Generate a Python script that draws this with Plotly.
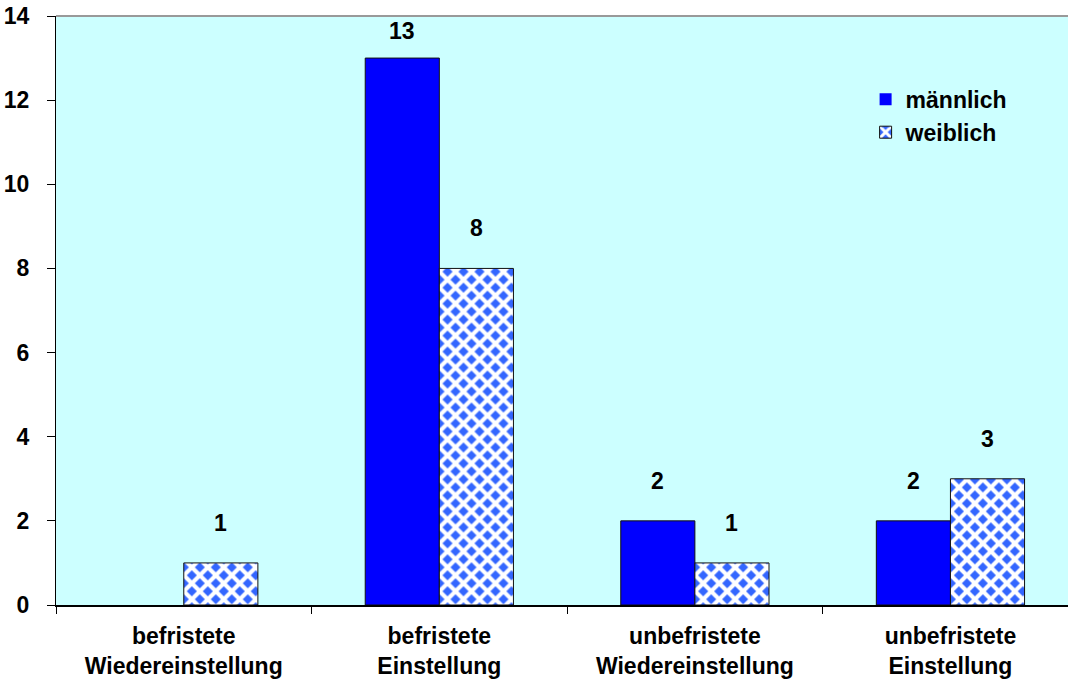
import plotly.graph_objects as go

categories = ["befristete<br>Wiedereinstellung", "befristete<br>Einstellung",
              "unbefristete<br>Wiedereinstellung", "unbefristete<br>Einstellung"]
maennlich = [0, 13, 2, 2]
weiblich = [1, 8, 1, 3]
male_labels = ["", "13", "2", "2"]
female_labels = ["1", "8", "1", "3"]
y_ticks = [0, 2, 4, 6, 8, 10, 12, 14]

FONT = "Liberation Sans, Arial, sans-serif"
FS = 23
H, T, B = 686, 16, 81
PX = (H - T - B) / 14.0

fig = go.Figure()
fig.add_trace(go.Bar(
    name="männlich", x=categories, y=maennlich,
    marker=dict(color="#0000FF",
                line=dict(color="#111111", width=[1 if v > 0 else 0 for v in maennlich])),
))
fig.add_trace(go.Bar(
    name="weiblich", x=categories, y=weiblich,
    marker=dict(color="#3366FF", line=dict(color="#111111", width=1),
                pattern=dict(shape="x", fgcolor="#FFFFFF", bgcolor="#3366FF",
                             size=11.3, solidity=0.6, fillmode="replace")),
))


def shift(v):
    return min(40, (14 - v) * PX - 15)


for i, c in enumerate(categories):
    if male_labels[i]:
        fig.add_annotation(x=c, y=maennlich[i], text="<b>%s</b>" % male_labels[i],
                           xshift=-37, yshift=shift(maennlich[i]), showarrow=False,
                           font=dict(family=FONT, size=FS, color="#000"))
    fig.add_annotation(x=c, y=weiblich[i], text="<b>%s</b>" % female_labels[i],
                       xshift=37, yshift=shift(weiblich[i]), showarrow=False,
                       font=dict(family=FONT, size=FS, color="#000"))

fig.update_layout(
    width=1068, height=H,
    margin=dict(l=56, r=0, t=T, b=B),
    paper_bgcolor="#FFFFFF", plot_bgcolor="#CCFFFF",
    barmode="group", bargap=0.42, bargroupgap=0,
    font=dict(family=FONT, size=FS, color="#000"),
    showlegend=True,
    legend=dict(x=0.80, y=0.895, xanchor="left", yanchor="top",
                bgcolor="rgba(0,0,0,0)",
                font=dict(family=FONT, size=FS, color="#000", weight="bold"),
                itemwidth=30),
    xaxis=dict(range=[-0.5, 3.46], showline=True, linecolor="#000", linewidth=1.5,
               ticks="outside", tickson="boundaries", ticklen=7, tickcolor="#000",
               tickfont=dict(family=FONT, size=FS, weight="bold"), showgrid=False,
               ticklabelstandoff=10),
    yaxis=dict(range=[0, 14], tickvals=y_ticks, showline=True, linecolor="#000", linewidth=1,
               ticks="outside", ticklen=8, tickcolor="#000", showgrid=False, zeroline=False,
               tickfont=dict(family=FONT, size=FS, weight="bold"), ticklabelstandoff=13),
)
fig.add_shape(type="line", xref="paper", yref="paper", x0=0, x1=1, y0=1, y1=1,
              line=dict(color="#999999", width=2))

fig.write_html("out.html")
